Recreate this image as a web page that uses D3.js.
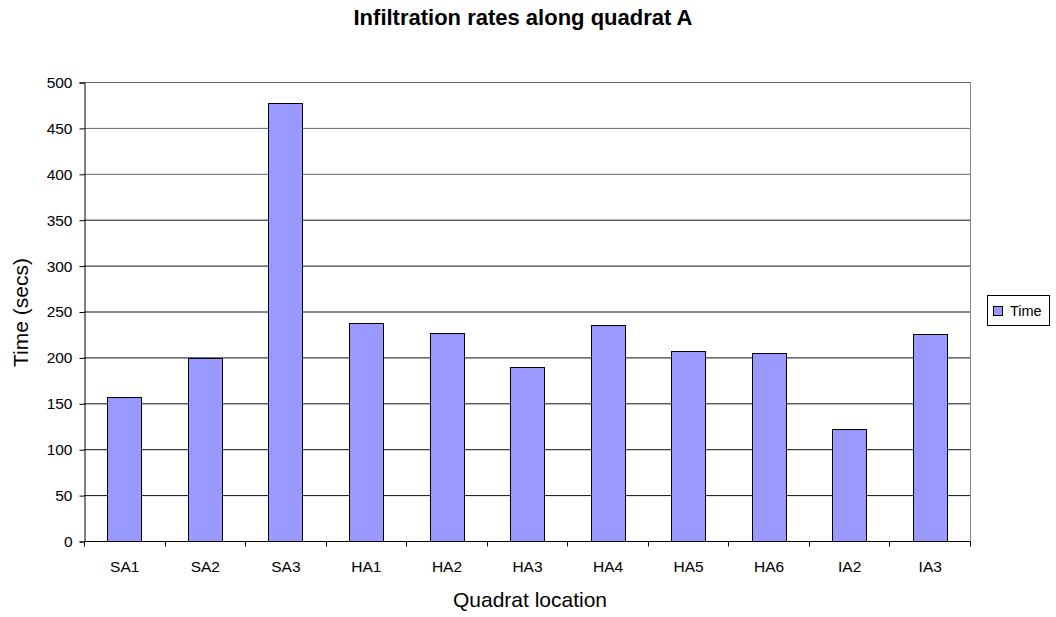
<!DOCTYPE html>
<html><head><meta charset="utf-8">
<script src="https://cdn.jsdelivr.net/npm/d3@7"></script>
<style>body{margin:0;background:#fff}svg{display:block;font-family:"Liberation Sans",Arial,sans-serif}</style>
</head><body>
<svg id="c" width="1056" height="617"></svg>
<script>
const categories = ["SA1","SA2","SA3","HA1","HA2","HA3","HA4","HA5","HA6","IA2","IA3"];
const timeValues = [157, 199, 477, 237, 227, 190, 235, 207, 205, 122, 225];
const yTicks = [0,50,100,150,200,250,300,350,400,450,500];
const seriesName = "Time";
const title = "Infiltration rates along quadrat A";
const xTitle = "Quadrat location";
const yTitle = "Time (secs)";

const svg = d3.select("#c");
const L = 84, R = 970, T = 82, B = 541;
const x = d3.scaleBand().domain(categories).range([L, R]).paddingInner(0.58).paddingOuter(0.29);
const xb = d3.scaleBand().domain(categories).range([L, R]);
const y = d3.scaleLinear().domain([0, 500]).range([B, T]);

// gridlines
svg.append("g").selectAll("line").data(yTicks.filter(d => d > 0)).join("line")
  .attr("x1", L).attr("x2", R).attr("y1", d => y(d) + 0.5).attr("y2", d => y(d) + 0.5)
  .attr("stroke", d => d >= 400 ? "#666" : "#111").attr("stroke-width", 1);
// plot border right
svg.append("line").attr("x1", R + 0.5).attr("x2", R + 0.5).attr("y1", T).attr("y2", B)
  .attr("stroke", "#888");

// bars
svg.append("g").selectAll("rect").data(categories).join("rect")
  .attr("x", d => Math.round(x(d)) + 0.5)
  .attr("y", (d, i) => Math.round(y(timeValues[i])) + 0.5)
  .attr("width", Math.round(x.bandwidth()))
  .attr("height", (d, i) => Math.round(B - y(timeValues[i])))
  .attr("fill", "#9999ff").attr("stroke", "#000").attr("stroke-width", 1);

// y axis
const ya = svg.append("g").attr("transform", `translate(${L + 0.5},0.5)`)
  .call(d3.axisLeft(y).tickValues(yTicks).tickSize(5).tickPadding(7));
ya.select(".domain").attr("stroke", "#000");
ya.selectAll("text").attr("font-size", 15.5).attr("fill", "#000").attr("font-family", "Liberation Sans, Arial, sans-serif");

// x axis
const xa = svg.append("g").attr("transform", `translate(0.5,${B + 0.5})`);
xa.append("line").attr("x1", L).attr("x2", R).attr("stroke", "#000");
const tickPos = categories.map(c => xb(c)).concat([R]);
xa.selectAll("line.t").data(tickPos).join("line").attr("class", "t")
  .attr("x1", d => Math.round(d)).attr("x2", d => Math.round(d)).attr("y1", 0).attr("y2", 5).attr("stroke", "#000");
xa.selectAll("text").data(categories).join("text")
  .attr("x", d => xb(d) + xb.bandwidth() / 2).attr("y", 30)
  .attr("text-anchor", "middle").attr("font-size", 15.5).text(d => d);

// titles
svg.append("text").attr("x", 523).attr("y", 25).attr("text-anchor", "middle")
  .attr("font-size", 22).attr("font-weight", "bold").text(title);
svg.append("text").attr("x", 530).attr("y", 607).attr("text-anchor", "middle")
  .attr("font-size", 21).text(xTitle);
svg.append("text").attr("transform", `translate(28,${(T + B) / 2 + 1}) rotate(-90)`)
  .attr("text-anchor", "middle").attr("font-size", 21).text(yTitle);

// legend
const lg = svg.append("g");
lg.append("rect").attr("x", 987.5).attr("y", 295.5).attr("width", 62).attr("height", 30)
  .attr("fill", "#fff").attr("stroke", "#000");
lg.append("rect").attr("x", 993.5).attr("y", 306.5).attr("width", 9).attr("height", 9)
  .attr("fill", "#9999ff").attr("stroke", "#000");
lg.append("text").attr("x", 1010).attr("y", 316).attr("font-size", 14.5).text(seriesName);
</script>
</body></html>
